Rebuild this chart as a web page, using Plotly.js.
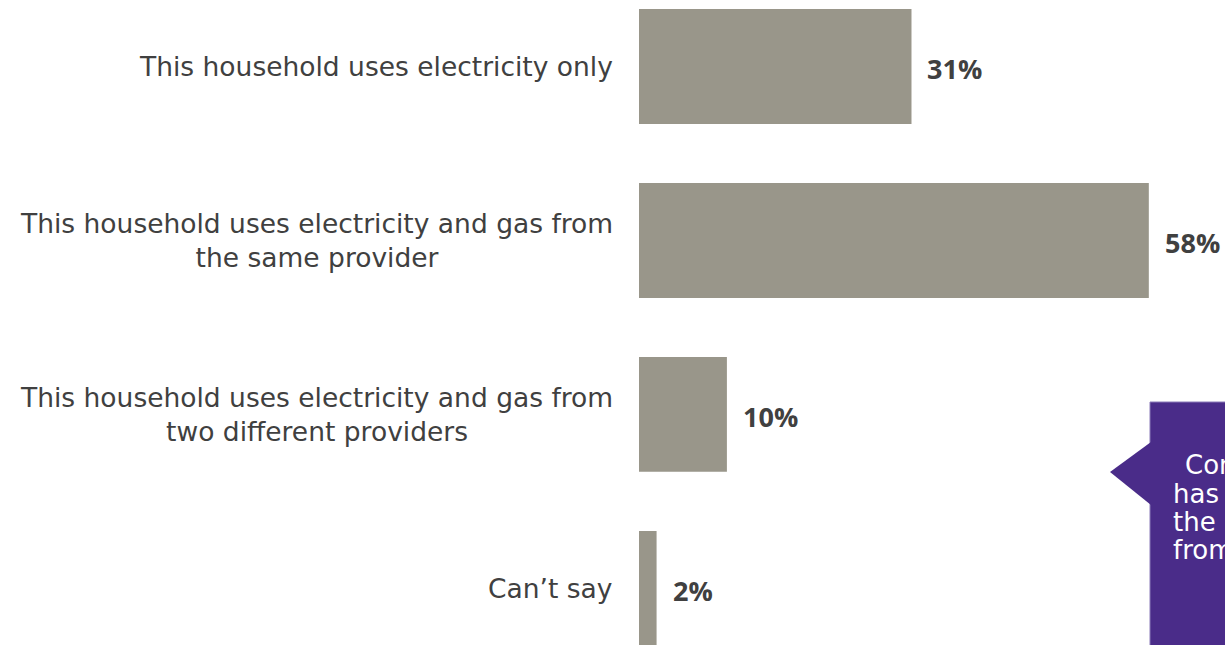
<!DOCTYPE html>
<html>
<head>
<meta charset="utf-8">
<script src="https://cdn.plot.ly/plotly-3.0.1.min.js"></script>
<style>html,body{margin:0;padding:0;background:#fff;}#chart{width:1225px;height:645px;}</style>
</head>
<body>
<div id="chart"></div>
<script>
const categories = [
  "This household uses electricity only",
  "This household uses electricity and gas from<br>the same provider",
  "This household uses electricity and gas from<br>two different providers",
  "Can\u2019t say"
];
const values = [31, 58, 10, 2];
const valueLabels = ["31%", "58%", "10%", "2%"];
const calloutLines = ["Combined", "has", "the", "from"];

const barColor = "#99968A";
const textColor = "#404040";
const labelFont = "DejaVu Sans, Noto Sans, sans-serif";
const valueFont = "Open Sans, Noto Sans, sans-serif";

const yIdx = categories.map((c, i) => i);

const trace = {
  type: "bar",
  orientation: "h",
  x: values,
  y: yIdx,
  width: 0.66,
  marker: {color: barColor},
  hoverinfo: "skip"
};

const annotations = [];
categories.forEach((c, i) => {
  annotations.push({
    xref: "paper", yref: "y", x: 0, y: i,
    xanchor: "right", yanchor: "middle", xshift: -24,
    text: c, showarrow: false, align: "center",
    font: {family: labelFont, size: 26.5, color: textColor}
  });
  annotations.push({
    xref: "x", yref: "y", x: values[i], y: i,
    xanchor: "left", yanchor: "middle", xshift: 14, yshift: -2,
    text: "<b>" + valueLabels[i] + "</b>", showarrow: false,
    font: {family: valueFont, size: 27, color: textColor}
  });
});

// callout (purple box, cut off at the right edge of the picture)
const W = 586, H = 645, L = 639;
const px = v => (v - L) / W;
const py = v => 1 - v / H;
const calloutX = [1186, 1174, 1174, 1174];
const calloutY = [464, 493, 521, 549];
calloutLines.forEach((t, i) => {
  annotations.push({
    xref: "paper", yref: "paper", x: px(calloutX[i]), y: py(calloutY[i]),
    xanchor: "left", yanchor: "middle", xshift: -3, height: 27,
    text: t, showarrow: false, align: "left",
    font: {family: labelFont, size: 26, color: "#ffffff"}
  });
});

const shapes = [
  {type: "rect", xref: "paper", yref: "paper",
   x0: px(1150), x1: px(1300), y0: py(402), y1: py(700),
   fillcolor: "#4A2C89", line: {color: "#8a7ab8", width: 1}, layer: "below"},
  {type: "path", xref: "paper", yref: "paper",
   path: `M ${px(1151)} ${py(442)} L ${px(1110)} ${py(472)} L ${px(1151)} ${py(505)} Z`,
   fillcolor: "#4A2C89", line: {width: 0}, layer: "below"}
];

const layout = {
  width: 1225, height: 645,
  margin: {l: L, r: 0, t: 0, b: 0, pad: 0},
  paper_bgcolor: "#ffffff", plot_bgcolor: "#ffffff",
  showlegend: false,
  xaxis: {range: [0, W / 8.79], visible: false, fixedrange: true},
  yaxis: {range: [3.325, -0.382], visible: false, fixedrange: true},
  annotations: annotations,
  shapes: shapes,
  bargap: 0.34
};

Plotly.newPlot("chart", [trace], layout, {displayModeBar: false, staticPlot: true});
</script>
</body>
</html>
